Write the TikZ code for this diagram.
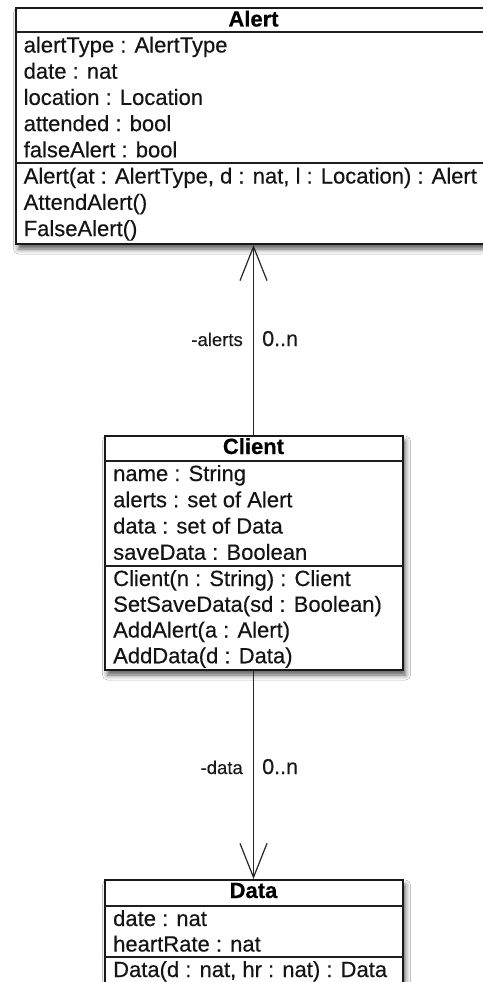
\documentclass[tikz,border=0pt]{standalone}
\usepackage{fontspec}
\setmainfont{Liberation Sans}[FakeBold=0.35]
\newfontfamily\plainsans{Liberation Sans}[FakeBold=0.35]
\usetikzlibrary{arrows.meta,shadows.blur}

\tikzset{
  classbox/.style={draw=black!90, line width=2pt, fill=white, rectangle, inner sep=0pt,
    blur shadow={shadow xshift=3pt, shadow yshift=-5pt, shadow blur radius=5pt, shadow opacity=65}},
  sepline/.style={line width=1.5pt, draw=black!88},
  headtext/.style={anchor=base, inner sep=0pt, font=\fontsize{22}{26}\selectfont\bfseries},
  rowtext/.style={anchor=base west, inner sep=0pt, font=\plainsans\fontsize{22}{26}\selectfont, text=black!92},
  assoc/.style={line width=1.5pt, draw=black!85, -{Straight Barb[length=34pt,width=27pt,line width=1.2pt]}},
  rolelabel/.style={anchor=base east, inner sep=0pt, font=\plainsans\fontsize{18.5}{20}\selectfont, text=black!90},
  multlabel/.style={anchor=base west, inner sep=0pt, font=\plainsans\fontsize{21.5}{24}\selectfont, text=black!90}
}

\begin{document}
\begin{tikzpicture}[x=1pt, y=1pt]
  \useasboundingbox (0,0) rectangle (482,-982);
  \fill[white] (0,0) rectangle (482,-982);

  % ---- class Alert ----
  \node[classbox, minimum width=476pt, minimum height=236pt, anchor=north] (alert) at (253.5,-7) {};
  \draw[sepline] (alert.west |- 0,-32) -- (alert.east |- 0,-32);
  \draw[sepline] (alert.west |- 0,-163) -- (alert.east |- 0,-163);
  \node[headtext] (alert-name) at (253.5,-26.5) {Alert};
  \foreach \t [count=\i from 0] in {alertType : AlertType, date : nat, location : Location, attended : bool, falseAlert : bool}
    \node[rowtext] (alert-a\i) at (23.5,-32-\i*26.2-20.5) {\t};
  \foreach \t [count=\i from 0] in {{Alert(at : AlertType, d : nat, l : Location) : Alert}, AttendAlert(), FalseAlert()}
    \node[rowtext] (alert-m\i) at (23.5,-163-\i*26.3-20.5) {\t};

  % ---- class Client ----
  \node[classbox, minimum width=298pt, minimum height=234pt, anchor=north] (client) at (253.5,-435) {};
  \draw[sepline] (client.west |- 0,-461) -- (client.east |- 0,-461);
  \draw[sepline] (client.west |- 0,-566) -- (client.east |- 0,-566);
  \node[headtext] (client-name) at (253.5,-454) {Client};
  \foreach \t [count=\i from 0] in {name : String, alerts : set of Alert, data : set of Data, saveData : Boolean}
    \node[rowtext] (client-a\i) at (113,-461-\i*26.25-20) {\t};
  \foreach \t [count=\i from 0] in {Client(n : String) : Client, SetSaveData(sd : Boolean), AddAlert(a : Alert), AddData(d : Data)}
    \node[rowtext] (client-m\i) at (113,-566-\i*25.75-20) {\t};

  % ---- class Data ----
  \node[classbox, minimum width=298pt, minimum height=105pt, anchor=north] (data) at (253.5,-879) {};
  \draw[sepline] (data.west |- 0,-906) -- (data.east |- 0,-906);
  \draw[sepline] (data.west |- 0,-957) -- (data.east |- 0,-957);
  \node[headtext] (data-name) at (253.5,-898) {Data};
  \foreach \t [count=\i from 0] in {date : nat, heartRate : nat}
    \node[rowtext] (data-a\i) at (113,-906-\i*25.5-20) {\t};
  \node[rowtext] (data-m0) at (113,-957-20) {Data(d : nat, hr : nat) : Data};

  % ---- associations ----
  \draw[assoc] (client.north) -- (alert.south);
  \node[rolelabel] (alerts-role) at (243,-346) {-alerts};
  \node[multlabel] (alerts-mult) at (262,-346) {0..n};

  \draw[assoc] (client.south) -- (data.north);
  \node[rolelabel] (data-role) at (243,-774) {-data};
  \node[multlabel] (data-mult) at (262,-774) {0..n};
\end{tikzpicture}
\end{document}
